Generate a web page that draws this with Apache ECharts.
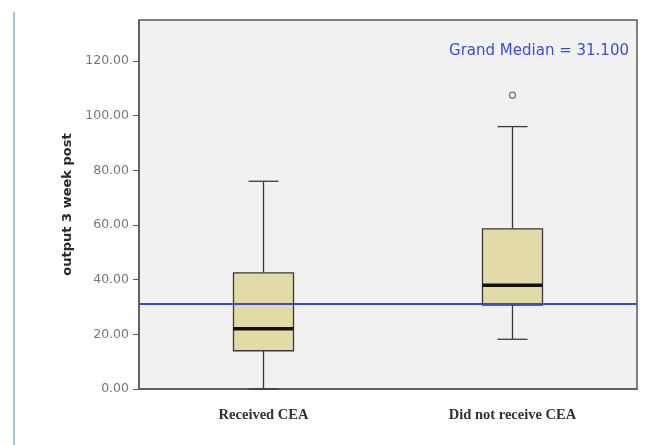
<!DOCTYPE html>
<html>
<head>
<meta charset="utf-8">
<script src="https://cdn.jsdelivr.net/npm/echarts@6/dist/echarts.min.js"></script>
<style>
  html, body { margin: 0; padding: 0; background: #ffffff; }
  #chart { width: 670px; height: 445px; }
</style>
</head>
<body>
<div id="chart"></div>
<script>
// Groups on the x axis
const categories = ['Received CEA', 'Did not receive CEA'];
// Five-number summaries per group: [lower whisker, Q1, median, Q3, upper whisker]
const boxStats = [
  [0, 14, 22, 42.5, 76],
  [18.2, 30.7, 38, 58.6, 96]
];
// Outliers: [group index, value]
const outliers = [[1, 107.5]];
// Reference line
const grandMedian = 31.1;
const yTicks = [0, 20, 40, 60, 80, 100, 120];

const chart = echarts.init(document.getElementById('chart'));

function renderBox(params, api) {
  const idx = api.value(0);
  const s = boxStats[idx];
  const halfBox = 30, halfCap = 15;
  const x = api.coord([idx, s[2]])[0];
  const y = v => api.coord([idx, v])[1];
  const stroke = { stroke: '#3a3a3a', lineWidth: 1.3 };
  return {
    type: 'group',
    children: [
      { type: 'line', shape: { x1: x, y1: y(s[3]), x2: x, y2: y(s[4]) }, style: stroke },
      { type: 'line', shape: { x1: x, y1: y(s[1]), x2: x, y2: y(s[0]) }, style: stroke },
      { type: 'line', shape: { x1: x - halfCap, y1: y(s[4]), x2: x + halfCap, y2: y(s[4]) }, style: stroke },
      { type: 'line', shape: { x1: x - halfCap, y1: y(s[0]), x2: x + halfCap, y2: y(s[0]) }, style: stroke },
      { type: 'rect', shape: { x: x - halfBox, y: y(s[3]), width: halfBox * 2, height: y(s[1]) - y(s[3]) },
        style: { fill: '#e2dba8', stroke: '#3a3a3a', lineWidth: 1.3 } },
      { type: 'line', shape: { x1: x - halfBox, y1: y(s[2]), x2: x + halfBox, y2: y(s[2]) },
        style: { stroke: '#111', lineWidth: 3.5 } }
    ]
  };
}

chart.setOption({
  animation: false,
  backgroundColor: '#ffffff',
  grid: { left: 139, right: 33, top: 20, bottom: 56, show: true,
          backgroundColor: '#f1f1f1', borderColor: '#5a5a5a', borderWidth: 1.5 },
  xAxis: {
    type: 'category',
    data: categories,
    boundaryGap: true,
    axisLine: { lineStyle: { color: '#5a5a5a', width: 1.5 } },
    axisTick: { alignWithLabel: true, length: 6, lineStyle: { color: '#5a5a5a' } },
    axisLabel: { color: '#333', fontFamily: 'Liberation Serif', fontWeight: 'bold', fontSize: 14.5, margin: 19 },
    splitLine: { show: false }
  },
  yAxis: {
    type: 'value',
    min: 0, max: 135, interval: 20,
    name: 'output 3 week post',
    nameLocation: 'middle',
    nameGap: 58,
    nameTextStyle: { color: '#2a2a2a', fontWeight: 'bold', fontSize: 13, fontFamily: 'DejaVu Sans' },
    axisLine: { show: true, lineStyle: { color: '#5a5a5a', width: 1.5 } },
    axisTick: { show: true, length: 6, customValues: yTicks, lineStyle: { color: '#5a5a5a' } },
    axisLabel: {
      color: '#777', fontSize: 12.5, fontFamily: 'DejaVu Sans', margin: 10,
      customValues: yTicks,
      formatter: v => v.toFixed(2)
    },
    splitLine: { show: false }
  },
  graphic: [
    { type: 'line', shape: { x1: 14, y1: 12, x2: 14, y2: 445 },
      style: { stroke: '#a9c4da', lineWidth: 2 } },
    { type: 'text', right: 41, top: 44,
      style: { text: 'Grand Median = ' + grandMedian.toFixed(3), fill: '#3d4fd0',
               fontSize: 15, fontFamily: 'DejaVu Sans' } }
  ],
  series: [
    {
      type: 'custom',
      renderItem: renderBox,
      data: boxStats.map((s, i) => [i, s[2]]),
      z: 2,
      markLine: {
        silent: true, symbol: 'none', label: { show: false },
        lineStyle: { color: '#3a4ccc', width: 2, type: 'solid' },
        data: [{ yAxis: grandMedian }]
      }
    },
    {
      type: 'scatter',
      data: outliers,
      symbol: 'circle',
      symbolSize: 6,
      itemStyle: { color: '#f1f1f1', borderColor: '#555', borderWidth: 1.3 }
    }
  ]
});
</script>
</body>
</html>
